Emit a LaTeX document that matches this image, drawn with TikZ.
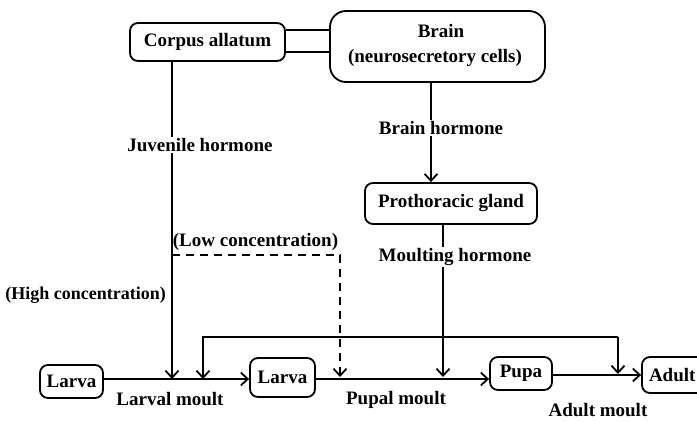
\documentclass[tikz,border=0pt]{standalone}
\usepackage{fontspec}
\setmainfont{Liberation Serif}
\usetikzlibrary{arrows.meta}
\begin{document}
\begin{tikzpicture}[x=1pt,y=1pt,
  box/.style={draw, line width=1.8pt, rounded corners=8pt, inner sep=0pt,
    font=\fontsize{19}{21}\selectfont\bfseries},
  lbl/.style={inner sep=1pt, font=\fontsize{19}{21}\selectfont\bfseries},
  ln/.style={line width=1.8pt},
  arr/.style={ln, -{Straight Barb[length=7pt,width=13pt,line width=1.8pt]}},
  dsh/.style={arr, dash pattern=on 8pt off 6pt},
]
\useasboundingbox (0,0) rectangle (697,421);
\clip (0,0) rectangle (697,421);
% boxes
\node[box, minimum width=155pt, minimum height=38pt] (ca) at (207.5,379) {Corpus allatum};
\node[box, rounded corners=16pt, minimum width=215pt, minimum height=71pt] (brain) at (437.5,374.5) {};
\node[lbl] (brt) at (441,390) {Brain};
\node[lbl] (nsc) at (435,363) {(neurosecretory cells)};
\node[box, minimum width=172pt, minimum height=41pt] (pg) at (451,217.5) {Prothoracic gland};
\node[box, minimum width=63pt, minimum height=33pt] (l1) at (71.5,39.5) {Larva};
\node[box, minimum width=65pt, minimum height=39pt] (l2) at (282.5,43.5) {Larva};
\node[box, minimum width=62pt, minimum height=33pt] (pupa) at (521,47.5) {Pupa};
\node[box, minimum width=78pt, minimum height=36pt, text width=64pt, align=left, inner xsep=7pt] (adult) at (681,46) {Adult};
% labels
\node[lbl] (jh) at (200,276) {Juvenile hormone};
\node[lbl] (bh) at (441,293) {Brain hormone};
\node[lbl] (mh) at (455,164) {Moulting hormone};
\node[lbl] (lc) at (255.5,179) {(Low concentration)};
\node[lbl, anchor=east, font=\fontsize{18}{20}\selectfont\bfseries] (hc) at (167,126) {(High concentration)};
\node[lbl] (lm) at (170,22) {Larval moult};
\node[lbl] (pm) at (396,21) {Pupal moult};
\node[lbl] (am) at (598,11) {Adult moult};
% coordinates
\coordinate (jlow) at (172,166);
\coordinate (dcorner) at (340,166);
\coordinate (m1) at (172,42);
\coordinate (md) at (340,44);
\coordinate (m2) at (203,42);
\coordinate (mm) at (443,44);
\coordinate (fbL) at (203,84);
\coordinate (fbR) at (618,84);
\coordinate (m4) at (618,47);
% brain -- corpus allatum
\draw[ln] (ca.east |- 0,391) -- (brain.west |- 0,391);
\draw[ln] (ca.east |- 0,369) -- (brain.west |- 0,369);
% juvenile hormone
\draw[ln] (ca.south -| 172,0) -- (jh.north -| 172,0);
\draw[arr] (jh.south -| 172,0) -- (jlow) -- (m1);
\draw[dsh] (jlow) -- (dcorner) -- (md);
% brain hormone
\draw[ln] (brain.south -| 431,0) -- (bh.north -| 431,0);
\draw[arr] (bh.south -| 431,0) -- (pg.north -| 431,0);
% moulting hormone
\draw[ln] (pg.south -| 443,0) -- (mh.north -| 443,0);
\draw[arr] (mh.south -| 443,0) -- (mm);
% feedback loop
\draw[arr] (fbR) -- (fbL) -- (m2);
\draw[arr] (fbR) -- (m4);
% main line
\draw[arr] (l1.east |- 0,42) -- (l2.west |- 0,42);
\draw[arr] (l2.east |- 0,42) -- (pupa.west |- 0,42);
\draw[arr] (pupa.east |- 0,46) -- (adult.west |- 0,46);
\end{tikzpicture}
\end{document}
